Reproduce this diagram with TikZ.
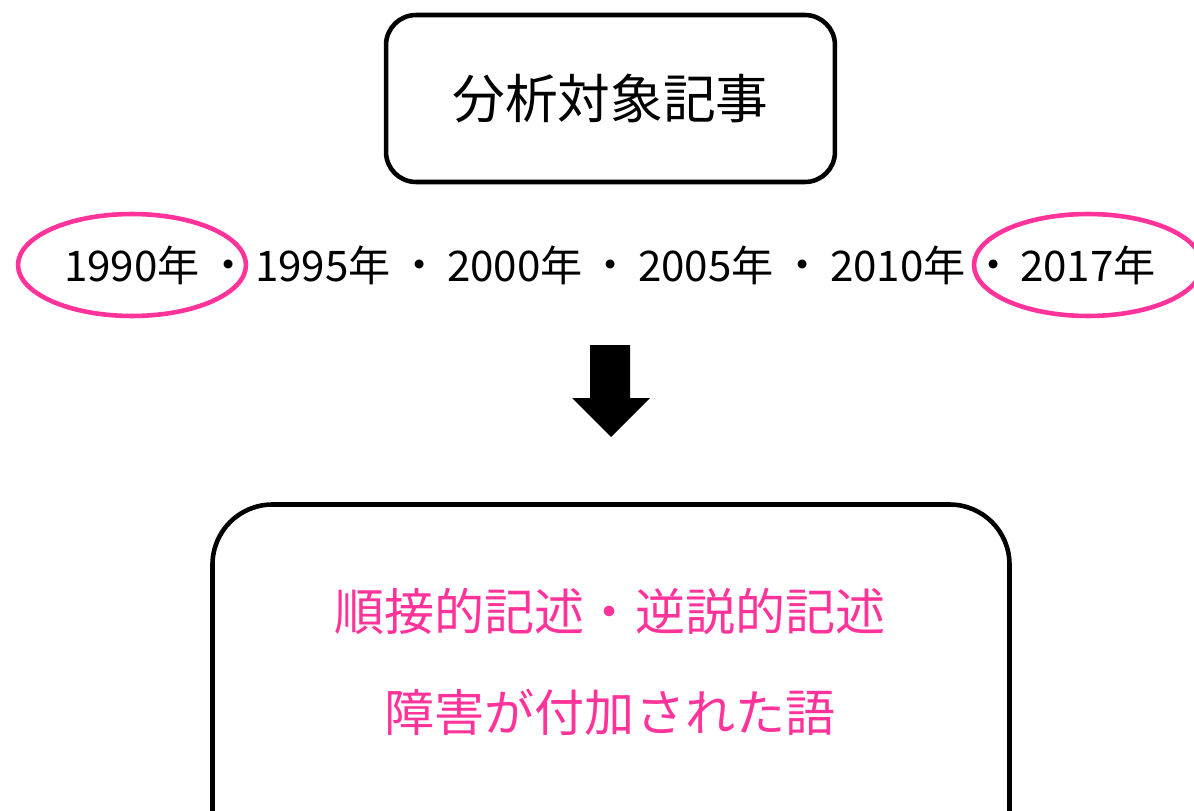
\documentclass[tikz,border=0pt]{standalone}
\usepackage{fontspec}
\setmainfont{Noto Sans CJK JP}
\usetikzlibrary{calc}
\definecolor{markpink}{RGB}{255,51,153}

\begin{document}
\begin{tikzpicture}[x=0.02cm, y=-0.02cm]
			%%%%% START %%%%%
			\useasboundingbox (0,0) rectangle (1194,811);
			\clip (0,0) rectangle (1194,811);
			
			\node[draw, line width=2.6pt, rounded corners=0.6cm, minimum width=8.98cm, minimum height=3.34cm, font=\fontsize{30}{36}\selectfont] (target) at (610.5,98.5) {分析対象記事};
			
			\foreach \yr/\x in {1990/132, 1995/323, 2000/515, 2005/706, 2010/898, 2017/1088}
				\node[font=\fontsize{24}{28}\selectfont] (y\yr) at (\x,265) {\yr 年};
			\foreach \i/\x in {1/229, 2/420, 3/611, 4/803, 5/994}
				\node[font=\fontsize{24}{28}\selectfont] (dot\i) at (\x,270) {・};
			
			\draw[line width=2.6pt, color=markpink] (y1990) ellipse [x radius=2.28cm, y radius=1.02cm];
			\draw[line width=2.6pt, color=markpink] (y2017) ellipse [x radius=2.28cm, y radius=1.02cm];
			
			\fill[black] (590,345) -- (630,345) -- (630,398) -- (650,398) -- (611,437) -- (572,398) -- (590,398) -- cycle;
			
			\draw[line width=2.6pt, rounded corners=1.2cm] (212.5,504.5) rectangle (1009.5,900);
			\node[font=\fontsize{28.5}{34}\selectfont, color=markpink] (kind) at (610,612) {順接的記述・逆説的記述};
			\node[font=\fontsize{28.5}{34}\selectfont, color=markpink] (word) at (610,712) {障害が付加された語};
			%%%%% END %%%%%
\end{tikzpicture}
\end{document}
